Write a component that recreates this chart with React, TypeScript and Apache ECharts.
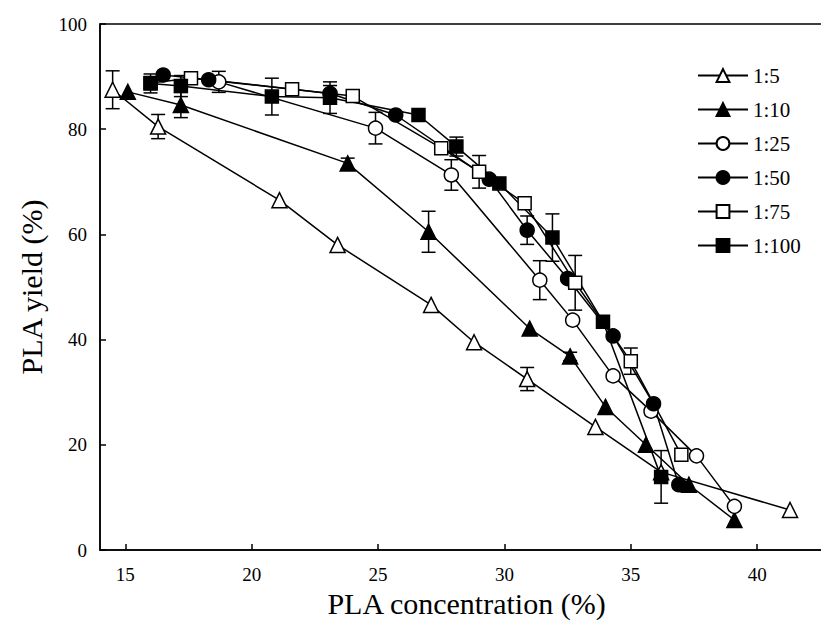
import React, { useEffect, useRef } from "react";
import * as echarts from "echarts";

const seriesNames = ["1:5", "1:10", "1:25", "1:50", "1:75", "1:100"];

const x5 = [14.5, 16.3, 21.1, 23.4, 27.1, 28.8, 30.9, 33.6, 36.2, 41.3];
const y5 = [87.5, 80.5, 66.5, 58.0, 46.6, 39.5, 32.5, 23.4, 14.8, 7.6];
const e5 = [3.6, 2.3, 0, 0, 0, 0, 2.2, 0, 0, 0];

const x10 = [15.1, 17.2, 23.8, 27.0, 31.0, 32.6, 34.0, 35.6, 37.3, 39.1];
const y10 = [87.1, 84.6, 73.5, 60.5, 42.1, 36.8, 27.2, 20.0, 12.4, 5.7];
const e10 = [0, 2.4, 1.0, 3.9, 0, 0.8, 0, 0, 0, 0];

const x25 = [18.7, 24.9, 27.9, 31.4, 32.7, 34.3, 35.8, 37.6, 39.1];
const y25 = [89.0, 80.2, 71.3, 51.3, 43.7, 33.1, 26.4, 17.9, 8.3];
const e25 = [2.0, 3.0, 2.9, 3.7, 0, 0, 0, 0, 0];

const x50 = [16.5, 18.3, 23.1, 25.7, 29.4, 30.9, 32.5, 34.3, 35.9, 36.9];
const y50 = [90.3, 89.4, 86.8, 82.7, 70.5, 60.8, 51.6, 40.7, 27.8, 12.4];
const e50 = [0, 0, 1.5, 0, 0, 2.7, 0, 0, 0, 0];

const x75 = [16.0, 17.6, 21.6, 24.0, 27.5, 29.0, 30.8, 32.8, 35.0, 37.0];
const y75 = [88.8, 89.7, 87.6, 86.3, 76.4, 71.9, 65.9, 50.8, 35.9, 18.1];
const e75 = [0, 0, 0, 0, 0, 3.1, 0, 5.2, 2.5, 0];

const x100 = [16.0, 17.2, 20.8, 23.1, 26.6, 28.1, 29.8, 31.9, 33.9, 36.2];
const y100 = [88.7, 88.2, 86.2, 86.0, 82.7, 76.7, 69.7, 59.4, 43.4, 13.9];
const e100 = [1.8, 2.0, 3.5, 3.0, 0, 1.8, 0, 4.5, 0, 5.0];

const xTicks = [15, 20, 25, 30, 35, 40];

const groups = [
  { name: seriesNames[0], xs: x5, ys: y5, es: e5, symbol: "triangle", hollow: true },
  { name: seriesNames[1], xs: x10, ys: y10, es: e10, symbol: "triangle", hollow: false },
  { name: seriesNames[2], xs: x25, ys: y25, es: e25, symbol: "circle", hollow: true },
  { name: seriesNames[3], xs: x50, ys: y50, es: e50, symbol: "circle", hollow: false },
  { name: seriesNames[4], xs: x75, ys: y75, es: e75, symbol: "rect", hollow: true },
  { name: seriesNames[5], xs: x100, ys: y100, es: e100, symbol: "rect", hollow: false },
];

const FONT = "Liberation Serif";

export default function App() {
  const ref = useRef<HTMLDivElement>(null);
  useEffect(() => {
    if (!ref.current) return;
    const chart = echarts.init(ref.current, null, { renderer: "svg" });

    const errData: number[][] = [];
    groups.forEach((g) => {
      g.xs.forEach((x, i) => {
        if (g.es[i] > 0) errData.push([x, g.ys[i], g.es[i]]);
      });
    });

    const lineSeries = groups.map((g) => ({
      name: g.name,
      type: "line",
      data: g.xs.map((x, i) => [x, g.ys[i]]),
      symbol: g.symbol,
      symbolSize: g.symbol === "rect" ? 13 : g.symbol === "triangle" ? 15 : 14,
      showAllSymbol: true,
      z: 3,
      lineStyle: { color: "#000", width: 1.5 },
      itemStyle: {
        color: g.hollow ? "#fff" : "#000",
        borderColor: "#000",
        borderWidth: 1.5,
      },
      emphasis: { disabled: true },
    }));

    const errSeries = {
      type: "custom",
      z: 2,
      silent: true,
      data: errData,
      encode: { x: 0, y: 1 },
      renderItem: (params: any, api: any) => {
        const x = api.value(0);
        const y = api.value(1);
        const e = api.value(2);
        const top = api.coord([x, y + e]);
        const bot = api.coord([x, y - e]);
        const w = 7;
        const st = { stroke: "#000", lineWidth: 1.5 };
        return {
          type: "group",
          children: [
            { type: "line", shape: { x1: top[0], y1: top[1], x2: bot[0], y2: bot[1] }, style: st },
            { type: "line", shape: { x1: top[0] - w, y1: top[1], x2: top[0] + w, y2: top[1] }, style: st },
            { type: "line", shape: { x1: bot[0] - w, y1: bot[1], x2: bot[0] + w, y2: bot[1] }, style: st },
          ],
        };
      },
    };

    chart.setOption({
      animation: false,
      grid: {
        left: 100,
        top: 24,
        right: -12,
        bottom: 83,
        containLabel: false,
        outerBoundsMode: "none",
        show: true,
        borderColor: "#000",
        borderWidth: 1.5,
        backgroundColor: "transparent",
      },
      legend: {
        data: seriesNames,
        orient: "vertical",
        left: 692,
        top: 60,
        itemWidth: 50,
        itemHeight: 16,
        itemGap: 13,
        textStyle: { fontFamily: FONT, fontSize: 21, color: "#000", lineHeight: 16 },
      },
      xAxis: {
        type: "value",
        min: 14,
        max: 43,
        name: "PLA concentration (%)",
        nameLocation: "middle",
        nameGap: 38,
        nameTextStyle: { fontFamily: FONT, fontSize: 30, color: "#000" },
        axisLine: { show: true, lineStyle: { color: "#000", width: 1.5 } },
        axisTick: { show: true, inside: true, length: 6, customValues: xTicks, lineStyle: { color: "#000", width: 1.5 } },
        axisLabel: { customValues: xTicks, fontFamily: FONT, fontSize: 19, color: "#000", margin: 15 },
        splitLine: { show: false },
      },
      yAxis: {
        type: "value",
        min: 0,
        max: 100,
        interval: 20,
        name: "PLA yield (%)",
        nameLocation: "middle",
        nameGap: 54,
        nameTextStyle: { fontFamily: FONT, fontSize: 30, color: "#000" },
        axisLine: { show: true, lineStyle: { color: "#000", width: 1.5 } },
        axisTick: { show: true, inside: true, length: 6, lineStyle: { color: "#000", width: 1.5 } },
        axisLabel: { fontFamily: FONT, fontSize: 19, color: "#000", margin: 13 },
        splitLine: { show: false },
      },
      series: [errSeries, ...lineSeries],
    });

    return () => chart.dispose();
  }, []);

  return (
    <div
      ref={ref}
      style={{ position: "fixed", left: 0, top: 0, width: 821, height: 633, background: "#fff" }}
    />
  );
}
